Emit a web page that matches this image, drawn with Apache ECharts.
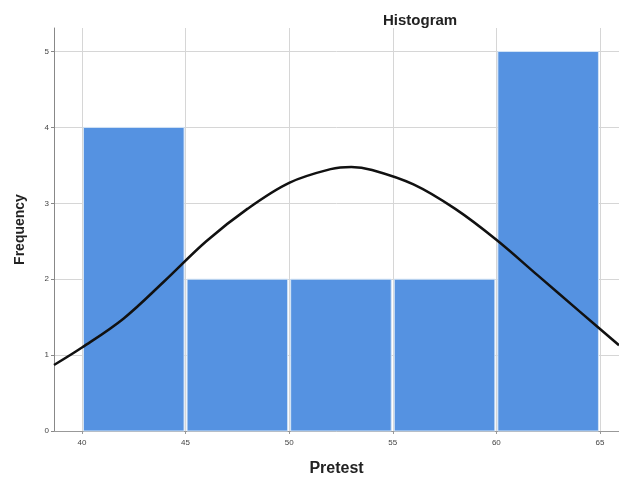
<!DOCTYPE html>
<html>
<head>
<meta charset="utf-8">
<script src="https://cdn.jsdelivr.net/npm/echarts@6/dist/echarts.min.js"></script>
<style>
    html, body { margin: 0; padding: 0; background: #fff; }
    #chart { width: 619px; height: 482px; }
</style>
</head>
<body>
<div id="chart"></div>
<script>
    // histogram bins (Pretest)
    let binStart = [40, 45, 50, 55, 60];
    let binEnd = [45, 50, 55, 60, 65];
    let frequency = [4, 2, 2, 2, 5];

    // normal curve, points
    let curveX = [38.65, 40, 42, 44, 46, 48, 50, 52, 53, 54, 56, 58, 60, 62, 64, 65.92];
    let curveY = [0.87, 1.10, 1.48, 1.98, 2.50, 2.93, 3.27, 3.45, 3.48, 3.44, 3.25, 2.93, 2.52, 2.05, 1.58, 1.13];

    let myChart = echarts.init(document.getElementById('chart'));

    let barData = binStart.map((s, i) => {
        return [s, binEnd[i], frequency[i]];
    });
    let curveData = curveX.map((x, i) => {
        return [x, curveY[i]];
    });

    let tickFont = {
        fontFamily: 'Liberation Sans',
        fontSize: 8,
        color: '#444'
    };

    let option = {
        animation: false,
        title: {
            text: 'Histogram',
            left: 378,
            top: 8,
            textStyle: {
                fontFamily: 'Liberation Sans',
                fontSize: 15,
                fontWeight: 'bold',
                color: '#222'
            }
        },
        grid: {
            left: 54,
            right: 0,
            top: 28,
            bottom: 49
        },
        xAxis: {
            type: 'value',
            min: 38.65,
            max: 65.92,
            splitNumber: 5,
            name: 'Pretest',
            nameLocation: 'middle',
            nameGap: 30,
            nameTextStyle: {
                fontFamily: 'Liberation Sans',
                fontSize: 16,
                fontWeight: 'bold',
                color: '#222'
            },
            axisLine: {lineStyle: {color: '#999'}},
            axisTick: {show: true, length: 3, lineStyle: {color: '#999'}},
            axisLabel: Object.assign({margin: 8, showMinLabel: false, showMaxLabel: false}, tickFont),
            splitLine: {
                show: true,
                showMinLine: false,
                showMaxLine: false,
                lineStyle: {color: '#d6d6d6'}
            }
        },
        yAxis: {
            type: 'value',
            min: 0,
            max: 5.31,
            interval: 1,
            name: 'Frequency',
            nameLocation: 'middle',
            nameGap: 27,
            nameRotate: 90,
            nameTextStyle: {
                fontFamily: 'Liberation Sans',
                fontSize: 14,
                fontWeight: 'bold',
                color: '#222'
            },
            axisLine: {show: true, lineStyle: {color: '#888'}},
            axisTick: {show: true, length: 3, lineStyle: {color: '#888'}},
            axisLabel: Object.assign({margin: 5, showMaxLabel: false}, tickFont),
            splitLine: {
                show: true,
                showMaxLine: false,
                lineStyle: {color: '#d6d6d6'}
            }
        },
        series: [{
            type: 'custom',
            data: barData,
            encode: {x: [0, 1], y: 2},
            renderItem: function (params, api) {
                let p0 = api.coord([api.value(0), api.value(2)]);
                let p1 = api.coord([api.value(1), 0]);
                return {
                    type: 'rect',
                    shape: {
                        x: p0[0] + 1.5,
                        y: p0[1],
                        width: p1[0] - p0[0] - 3,
                        height: p1[1] - p0[1]
                    },
                    style: {
                        fill: '#5592e1',
                        stroke: '#d3e4f6',
                        lineWidth: 1
                    }
                };
            }
        }, {
            type: 'line',
            data: curveData,
            smooth: 0.35,
            showSymbol: false,
            lineStyle: {color: '#111', width: 2.5}
        }]
    };
    myChart.setOption(option);
</script>
</body>
</html>
